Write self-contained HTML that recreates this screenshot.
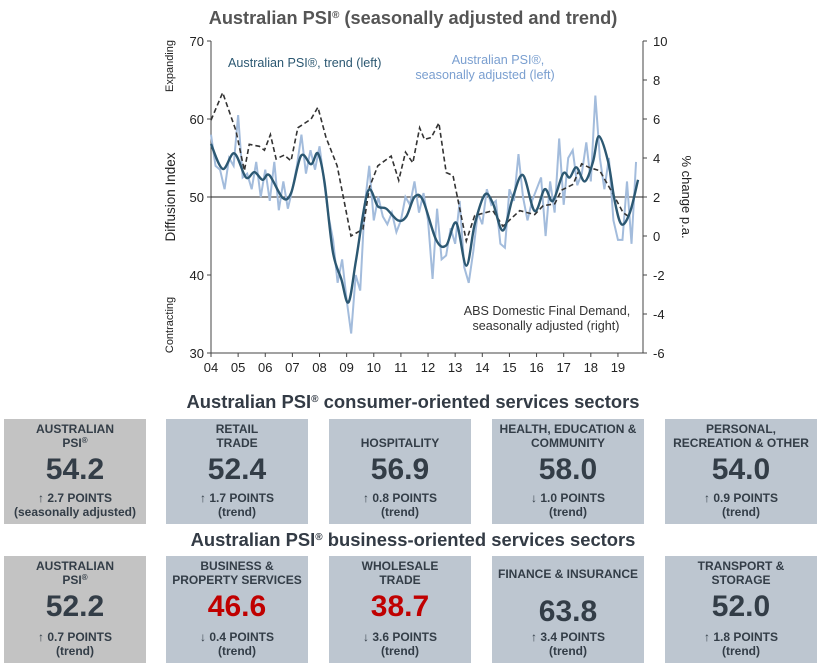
<!DOCTYPE html>
<html><head><meta charset="utf-8"><style>
body{margin:0;width:826px;height:669px;background:#fff;font-family:"Liberation Sans",Arial,sans-serif;position:relative;overflow:hidden}
.h{position:absolute;left:0;width:826px;text-align:center;font-weight:bold;color:#333b45;font-size:18.4px}
sup{line-height:0;vertical-align:6px}
.card{position:absolute;background:#bdc6d0;color:#333d47;text-align:center;font-weight:bold}
.card.g{background:#c3c3c3}
.t{position:absolute;left:0;right:0;font-size:12px;line-height:13.5px}
.v{position:absolute;left:0;right:0;font-size:30px;line-height:30px}
.s{position:absolute;left:0;right:0;font-size:12px;line-height:14px}
.red{color:#c00000}
</style></head><body>
<div class="h" style="top:8px;color:#555;font-size:18.2px">Australian PSI<sup style="font-size:10px">®</sup> (seasonally adjusted and trend)</div>
<svg id="ch" width="826" height="380" style="position:absolute;left:0;top:0"></svg>
<div class="h" style="top:391px">Australian PSI<sup style="font-size:10px">®</sup> consumer-oriented services sectors</div>
<div class="h" style="top:529px">Australian PSI<sup style="font-size:10px">®</sup> business-oriented services sectors</div>
<div id="cards"></div>
<script>
const L=211,R=643,T=41,B=353;
const x=y=>L+(y-2004)*27.13;
const yl=v=>T+(70-v)*(B-T)/40;
const yr=v=>T+(10-v)*(B-T)/16;
const trendX=[2004.0,2004.43,2004.86,2005.29,2005.6,2005.9,2006.15,2006.64,2006.95,2007.32,2007.69,2007.94,2008.18,2008.49,2008.8,2009.07,2009.35,2009.78,2010.15,2010.46,2010.89,2011.2,2011.5,2011.81,2012.3,2012.67,2013.04,2013.41,2013.72,2014.09,2014.39,2014.76,2015.13,2015.5,2015.93,2016.3,2016.6,2016.98,2017.22,2017.47,2017.78,2018.08,2018.3,2018.64,2018.88,2019.13,2019.44,2019.74];
const trendV=[56.8,53.6,55.6,52.5,53.2,52.2,52.8,49.9,50.5,55.3,54.2,55.6,52,43,39.5,36.5,42,50.7,48.8,48.5,47,47.5,50,49.6,44.5,43.8,46.7,41.2,46.5,50.3,49.2,45.7,50,52.8,48.2,51,49.5,53,52.5,53.8,52,54.5,57.8,54.5,49.5,46.5,48,52.2];
const saV=[58,54,53.5,51,55,54,60.5,52.5,53,51,54.5,50,53.5,49.5,54.5,48.3,52,48.5,51,54,58,53,56,53.5,56.5,52,47.5,44.5,39,42,36.8,32.5,40,38,49,54,47,50,47.5,46.5,48,45.5,47,50,49,52,48,50.5,47,39.5,48.5,42,42.5,46,44,49.5,41,39,43,48,46.5,51,49,49.5,44,43.5,51,49.5,55.5,50,47,49.5,51,52.5,45,52,48,57.5,49,55,56,51.5,53,57,52,63,55,51,55,47,44.5,44.5,52,44,54.5];
const dfdX=[2004.0,2004.43,2004.92,2005.23,2005.41,2005.78,2005.97,2006.19,2006.4,2006.7,2006.95,2007.2,2007.69,2007.94,2008.24,2008.65,2009.16,2009.6,2009.84,2010.15,2010.64,2010.92,2011.17,2011.44,2011.69,2011.87,2012.12,2012.4,2012.67,2012.92,2013.41,2013.72,2014.39,2014.76,2015.38,2015.93,2016.24,2016.67,2016.92,2017.35,2017.66,2017.96,2018.33,2018.82,2019.19,2019.44];
const dfdV=[5.94,7.35,5.4,3.35,4.7,4.6,4.4,5.2,3.95,4.15,3.85,5.55,6.0,6.6,5.05,3.6,0.0,0.35,2.5,3.6,4.1,2.85,4.3,3.75,5.55,4.95,5.05,5.8,3.25,3.1,-0.25,1.05,1.3,0.5,1.3,1.1,1.55,1.65,2.35,2.65,3.7,3.5,3.35,2.15,1.2,0.95];
const leftTicks=[30,40,50,60,70],rightTicks=[-6,-4,-2,0,2,4,6,8,10];
const yearLabels=["04","05","06","07","08","09","10","11","12","13","14","15","16","17","18","19"];
const svg=document.getElementById('ch');const NS='http://www.w3.org/2000/svg';
function el(t,a,p){const e=document.createElementNS(NS,t);for(const k in a)e.setAttribute(k,a[k]);(p||svg).appendChild(e);return e;}
function txt(s,a){const e=el('text',Object.assign({'font-family':'Liberation Sans, sans-serif','font-size':12.6,fill:'#222'},a));e.textContent=s;return e;}
let ax=el('path',{d:`M${L} ${T}V${B}H${R}V${T}`,fill:'none',stroke:'#444','stroke-width':1});


leftTicks.forEach(v=>{el('line',{x1:L-4,x2:L,y1:yl(v),y2:yl(v),stroke:'#444'});let t=txt(String(v),{x:L-7,y:yl(v)+5,'text-anchor':'end','font-size':13});});
rightTicks.forEach(v=>{el('line',{x1:R,x2:R+4,y1:yr(v),y2:yr(v),stroke:'#444'});let t=txt(String(v),{x:R+10,y:yr(v)+5,'font-size':13});});
yearLabels.forEach((s,i)=>{el('line',{x1:x(2004+i),x2:x(2004+i),y1:B,y2:B+4,stroke:'#444'});let t=txt(s,{x:x(2004+i),y:B+19,'text-anchor':'middle','font-size':13});});
el('line',{x1:L,x2:R,y1:yl(50),y2:yl(50),stroke:'#222','stroke-width':1});
const sa=el('polyline',{points:saV.map((v,i)=>x(2004+i/6)+','+yl(v)).join(' '),fill:'none',stroke:'#a3bcdc','stroke-width':2});


const df=el('polyline',{points:dfdV.map((v,i)=>x(dfdX[i])+','+yr(v)).join(' '),fill:'none',stroke:'#333','stroke-width':1.6,'stroke-dasharray':'5,3'});


function smooth(px){let d='M'+px[0];for(let i=0;i<px.length-1;i++){const p0=px[Math.max(0,i-1)],p1=px[i],p2=px[i+1],p3=px[Math.min(px.length-1,i+2)];d+=`C${p1[0]+(p2[0]-p0[0])/6},${p1[1]+(p2[1]-p0[1])/6} ${p2[0]-(p3[0]-p1[0])/6},${p2[1]-(p3[1]-p1[1])/6} ${p2[0]},${p2[1]}`;}return d;}
const tr=el('path',{d:smooth(trendV.map((v,i)=>[x(trendX[i]),yl(v)])),fill:'none',stroke:'#2c5872','stroke-width':2.4});


let a;
a=txt('Australian PSI®, trend (left)',{x:228,y:67,fill:'#2c5872'});
a=txt('Australian PSI®,',{x:498,y:64,fill:'#7a9fd0','text-anchor':'middle'});
a=txt('seasonally adjusted (left)',{x:485,y:79,fill:'#7a9fd0','text-anchor':'middle'});
a=txt('ABS Domestic Final Demand,',{x:547,y:315,'text-anchor':'middle',fill:'#333'});
a=txt('seasonally adjusted (right)',{x:546,y:330,'text-anchor':'middle',fill:'#333'});
a=txt('Diffusion Index',{x:0,y:0,transform:`translate(175,197) rotate(-90)`,'text-anchor':'middle','font-size':13.5});
a=txt('Expanding',{x:0,y:0,transform:`translate(173,66) rotate(-90)`,'text-anchor':'middle','font-size':11});
a=txt('Contracting',{x:0,y:0,transform:`translate(173,325) rotate(-90)`,'text-anchor':'middle','font-size':11});
a=txt('% change p.a.',{x:0,y:0,transform:`translate(682,197) rotate(90)`,'text-anchor':'middle','font-size':13});
const cards=[
[4,419,142,105,true,'AUSTRALIAN<br>PSI<sup style="font-size:8px;vertical-align:4px">®</sup>','54.2',false,'↑ 2.7 POINTS<br>(seasonally adjusted)'],
[166,419,142,105,false,'RETAIL<br>TRADE','52.4',false,'↑ 1.7 POINTS<br>(trend)'],
[329,419,142,105,false,'<br>HOSPITALITY','56.9',false,'↑ 0.8 POINTS<br>(trend)'],
[492,419,152,105,false,'HEALTH, EDUCATION &amp;<br>COMMUNITY','58.0',false,'↓ 1.0 POINTS<br>(trend)'],
[665,419,152,105,false,'PERSONAL,<br>RECREATION &amp; OTHER','54.0',false,'↑ 0.9 POINTS<br>(trend)'],
[4,556,142,107,true,'AUSTRALIAN<br>PSI<sup style="font-size:8px;vertical-align:4px">®</sup>','52.2',false,'↑ 0.7 POINTS<br>(trend)'],
[166,556,142,107,false,'BUSINESS &amp;<br>PROPERTY SERVICES','46.6',true,'↓ 0.4 POINTS<br>(trend)'],
[329,556,142,107,false,'WHOLESALE<br>TRADE','38.7',true,'↓ 3.6 POINTS<br>(trend)'],
[492,556,152,107,false,'FINANCE &amp; INSURANCE','63.8',false,'↑ 3.4 POINTS<br>(trend)'],
[665,556,152,107,false,'TRANSPORT &amp;<br>STORAGE','52.0',false,'↑ 1.8 POINTS<br>(trend)']];
const c=document.getElementById('cards');
cards.forEach(k=>{const d=document.createElement('div');d.className='card'+(k[4]?' g':'');


d.style.cssText=`left:${k[0]}px;top:${k[1]}px;width:${k[2]}px;height:${k[3]}px`;
const single=!k[5].includes('<br>');
d.innerHTML=`<div class="t" style="top:${single?12:4}px">${k[5]}</div><div class="v${k[7]?' red':''}" style="top:${k[1]>500&&single?41:36}px">${k[6]}</div><div class="s" style="top:${k[3]-33}px">${k[8]}</div>`;
c.appendChild(d);});
</script>
</body></html>
